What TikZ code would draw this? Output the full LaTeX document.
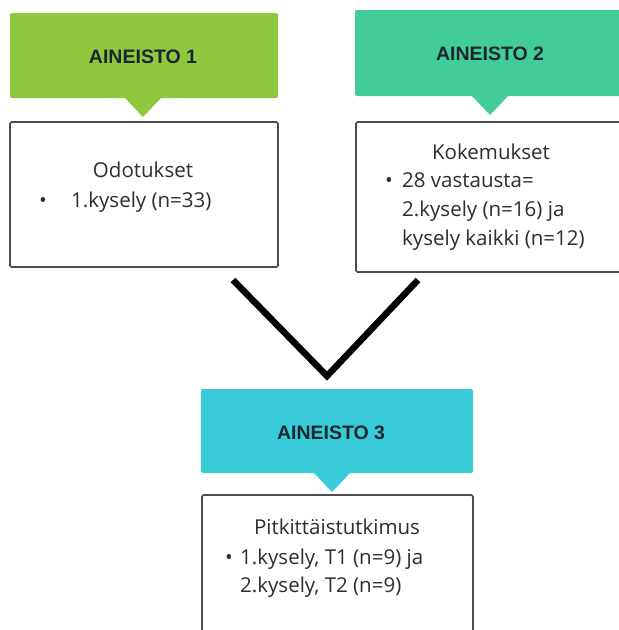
\documentclass[tikz,border=0pt]{standalone}
\usepackage{fontspec}
\setmainfont{Open Sans}
\newfontfamily\headfont{Liberation Sans}
\definecolor{gA}{RGB}{143,200,62}
\definecolor{gB}{RGB}{66,204,152}
\definecolor{gC}{RGB}{58,203,217}
\definecolor{headtxt}{RGB}{28,38,48}
\definecolor{bodytxt}{RGB}{45,45,45}
\definecolor{frame}{RGB}{75,75,75}
\tikzset{
  hdr/.style={rounded corners=2pt, draw=none},
  infobox/.style={draw=frame, line width=1.6pt, fill=white, rounded corners=1.5pt},
  htext/.style={inner sep=0pt, text=headtxt, font=\headfont\bfseries\fontsize{19.5}{23}\selectfont},
  btext/.style={inner sep=0pt, text=bodytxt, font=\fontsize{20.5}{25}\selectfont},
  vline/.style={line width=6.5pt, black, line join=miter}
}
\begin{document}
\begin{tikzpicture}[x=1pt,y=-1pt]
\useasboundingbox (0,0) rectangle (619,630);
\clip (0,0) rectangle (619,630);
% header 1
\fill[gA, hdr] (10,13) rectangle (278,98);
\fill[gA] (124,97) -- (162,97) -- (143,117) -- cycle;
\node[htext] (h1) at (143,57) {AINEISTO 1};
\draw[infobox] (10,122) rectangle (278,267);
\node[btext] (t1) at (143,170) {Odotukset};
\node[btext, anchor=base] (b1) at (43,207) {•};
\node[btext, anchor=base west] (l1) at (71,207) {1.kysely (n=33)};
% header 2
\fill[gB, hdr] (355,10) rectangle (640,96);
\fill[gB] (471,95) -- (509,95) -- (490,115) -- cycle;
\node[htext] (h2) at (490,54) {AINEISTO 2};
\draw[infobox] (356,122) rectangle (640,272);
\node[btext] (t2) at (491,152) {Kokemukset};
\node[btext, anchor=base] (b2) at (389,187) {•};
\node[btext, anchor=base west] (l2a) at (402,187) {28 vastausta=};
\node[btext, anchor=base west] (l2b) at (402,216) {2.kysely (n=16) ja};
\node[btext, anchor=base west] (l2c) at (402,245) {kysely kaikki (n=12)};
% V connector
\coordinate (vL) at (233,280);
\coordinate (vM) at (327,376);
\coordinate (vR) at (418,280);
\draw[vline] (vL) -- (vM) -- (vR);
% header 3
\fill[gC, hdr] (201,389) rectangle (473,473);
\fill[gC] (313,472) -- (351,472) -- (332,492) -- cycle;
\node[htext] (h3) at (331,433) {AINEISTO 3};
\draw[infobox] (202,495) rectangle (473,660);
\node[btext] (t3) at (337,527) {Pitkittäistutkimus};
\node[btext, anchor=base] (b3) at (229,564) {•};
\node[btext, anchor=base west] (l3a) at (240,564) {1.kysely, T1 (n=9) ja};
\node[btext, anchor=base west] (l3b) at (240,592) {2.kysely, T2 (n=9)};
\end{tikzpicture}
\end{document}
